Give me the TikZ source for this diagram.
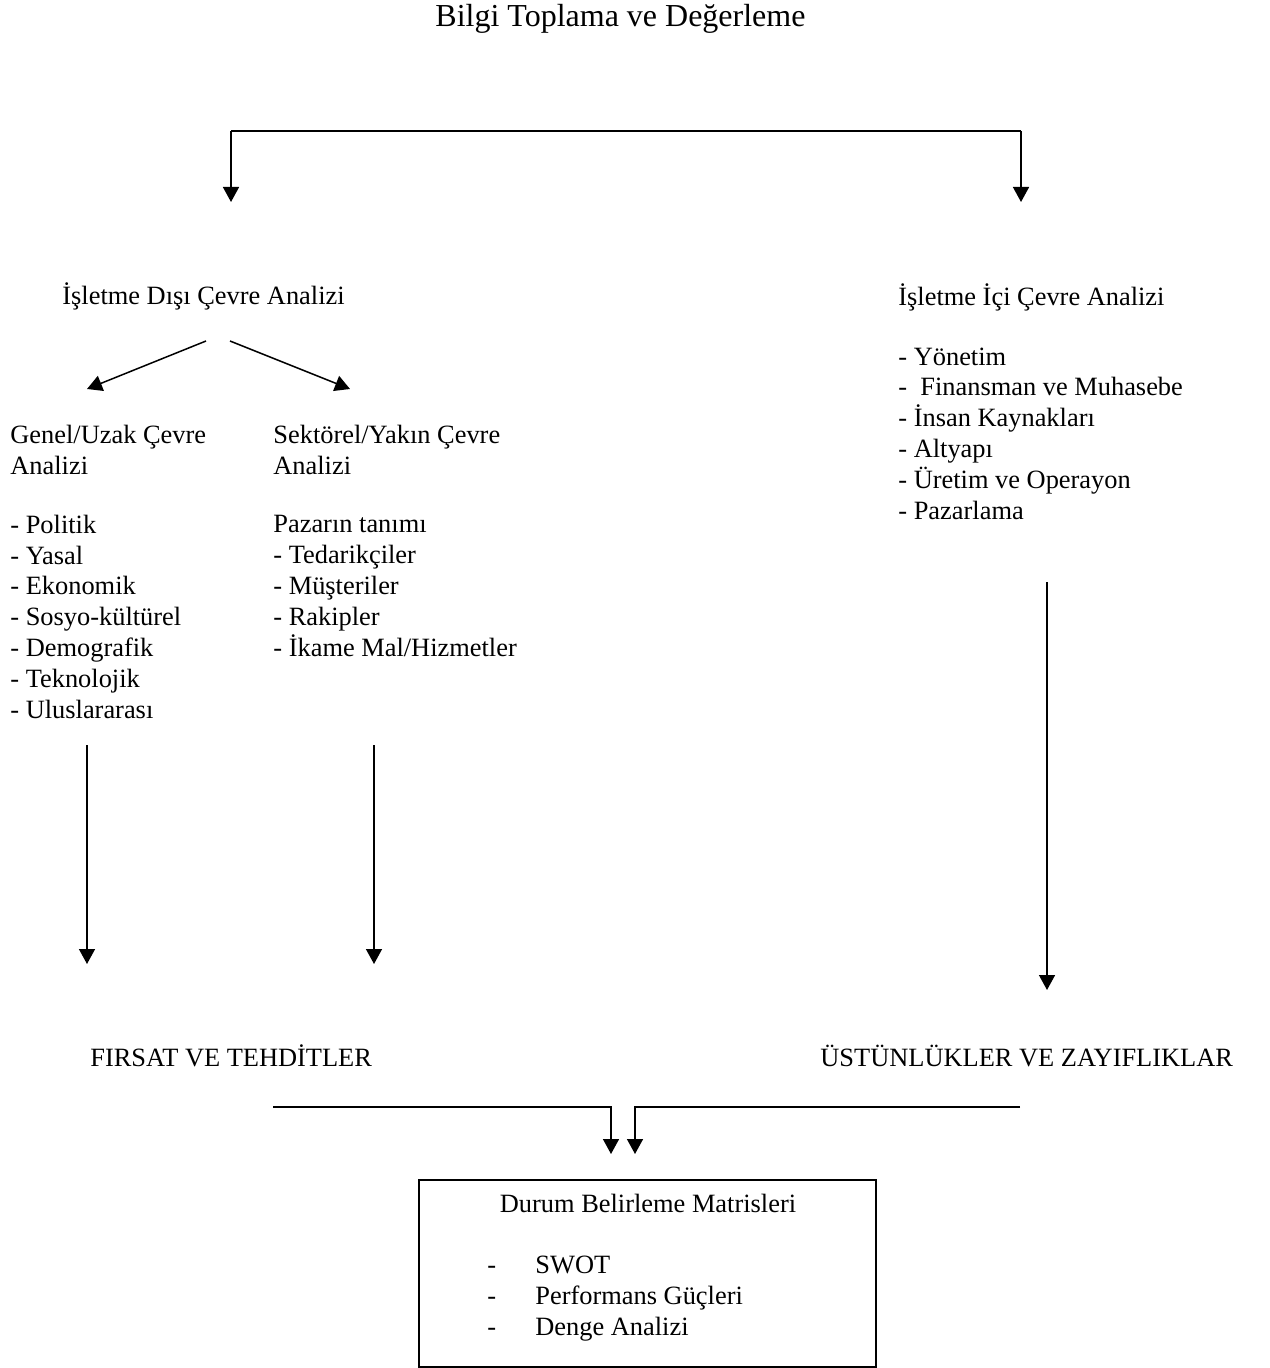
\documentclass[tikz,border=0pt]{standalone}
\usepackage{fontspec}
\setmainfont{Liberation Serif}
\usetikzlibrary{arrows.meta,calc}
\tikzset{
  lbl/.style={inner sep=0pt, anchor=base west, align=left,
    font=\fontsize{13.2pt}{15.4pt}\selectfont},
  arr/.style={-{Triangle[width=8pt,length=7.5pt]}, line width=0.75pt},
  ln/.style={line width=0.75pt},
  framebox/.style={draw, line width=0.75pt, anchor=north west, inner sep=0pt,
    minimum width=228.5pt, minimum height=93.5pt}
}
\newcommand{\itm}[1]{\makebox[24pt][l]{-}#1}
\begin{document}
\begin{tikzpicture}[x=0.5pt,y=-0.5pt]
\useasboundingbox (0,0) rectangle (1269,1368);

% headings and lists (multi-line nodes sit on the baseline of their last line)
\node[lbl, font=\fontsize{16pt}{18pt}\selectfont] (title) at (435,27) {Bilgi Toplama ve Değerleme};
\node[lbl] (ext) at (62,305) {İşletme Dışı Çevre Analizi};
\node[lbl] (int) at (898,519) {İşletme İçi Çevre Analizi\\[14.4pt]
  - Yönetim\\
  -\ \ Finansman ve Muhasebe\\
  - İnsan Kaynakları\\
  - Altyapı\\
  - Üretim ve Operayon\\
  - Pazarlama};
\node[lbl] (gen) at (10,718) {Genel/Uzak Çevre\\Analizi\\[14pt]
  - Politik\\
  - Yasal\\
  - Ekonomik\\
  - Sosyo-kültürel\\
  - Demografik\\
  - Teknolojik\\
  - Uluslararası};
\node[lbl] (sek) at (273,656) {Sektörel/Yakın Çevre\\Analizi\\[14pt]
  Pazarın tanımı\\
  - Tedarikçiler\\
  - Müşteriler\\
  - Rakipler\\
  - İkame Mal/Hizmetler};
\node[lbl] (ft) at (90,1066) {FIRSAT VE TEHDİTLER};
\node[lbl] (uz) at (820,1066) {ÜSTÜNLÜKLER VE ZAYIFLIKLAR};

% matrix box
\node[framebox] (box) at (418,1179) {};
\node[lbl, anchor=base] (boxhead) at (648,1212) {Durum Belirleme Matrisleri};
\node[lbl] (boxlist) at (487,1335) {\itm{SWOT}\\\itm{Performans Güçleri}\\\itm{Denge Analizi}};

% top split
\coordinate (tl) at (231,131);
\coordinate (tr) at (1021,131);
\draw[arr] (tl) -- (231,202);
\draw[ln] (tl) -- (tr);
\draw[arr] (tr) -- (1021,202);

% external analysis split
\coordinate (da) at (206,341);
\coordinate (db) at (230,341);
\draw[arr] (da) -- (87,389);
\draw[arr] (db) -- (350,389);

% downward arrows
\coordinate (g1) at (87,745);
\coordinate (s1) at (374,745);
\coordinate (i1) at (1047,582);
\draw[arr] (g1) -- (87,964);
\draw[arr] (s1) -- (374,964);
\draw[arr] (i1) -- (1047,990);

% merge into the box
\coordinate (ml) at (273,1107);
\coordinate (mr) at (1020,1107);
\draw[arr] (ml) -| ($(box.north west)+(193,-25)$);
\draw[arr] (mr) -| ($(box.north west)+(217,-25)$);
\end{tikzpicture}
\end{document}
